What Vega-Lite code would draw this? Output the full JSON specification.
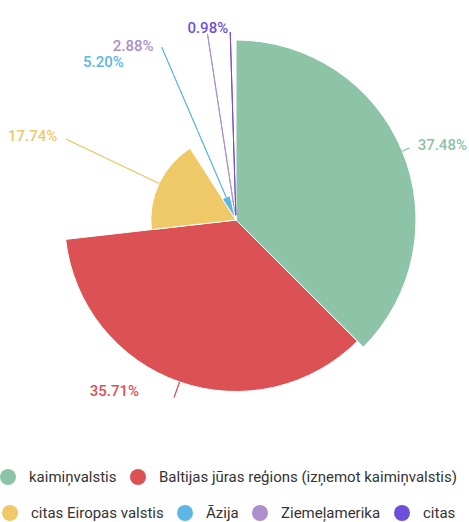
{
  "$schema": "https://vega.github.io/schema/vega-lite/v6.json",
  "width": 466,
  "height": 440,
  "autosize": {"type": "none"},
  "padding": {"left": 3, "top": 0, "right": 0, "bottom": 82},
  "background": "white",
  "view": {"stroke": null},
  "config": {
    "legend": {
      "symbolType": "circle",
      "symbolSize": 256,
      "symbolStrokeWidth": 0,
      "labelFont": "Roboto",
      "labelFontSize": 15,
      "labelColor": "#333333",
      "labelOffset": 13,
      "labelLimit": 500,
      "columnPadding": 13,
      "gridAlign": "none",
      "padding": 0
    }
  },
  "data": {
    "values": [
      {"cat": "kaimiņvalstis", "share": 0.3748, "i": 1},
      {"cat": "Baltijas jūras reģions (izņemot kaimiņvalstis)", "share": 0.3571, "i": 2},
      {"cat": "citas Eiropas valstis", "share": 0.1774, "i": 3},
      {"cat": "Āzija", "share": 0.052, "i": 4},
      {"cat": "Ziemeļamerika", "share": 0.0288, "i": 5},
      {"cat": "citas", "share": 0.0098, "i": 6}
    ]
  },
  "encoding": {
    "theta": {"field": "share", "type": "quantitative", "stack": true},
    "order": {"field": "i", "type": "quantitative"}
  },
  "layer": [
    {
      "mark": {"type": "arc", "stroke": "white", "strokeWidth": 1},
      "encoding": {
        "radius": {"field": "share", "type": "quantitative", "scale": {"type": "linear", "zero": true, "domain": [0, 0.3748], "range": [0, 180]}},
        "color": {
          "field": "cat", "type": "nominal",
          "scale": {
            "domain": ["kaimiņvalstis", "Baltijas jūras reģions (izņemot kaimiņvalstis)", "citas Eiropas valstis", "Āzija", "Ziemeļamerika", "citas"],
            "range": ["#8DC3A7", "#DB5154", "#EFC968", "#5DB6E4", "#AC8FCB", "#6D4FDB"]
          },
          "legend": {"values": ["kaimiņvalstis", "Baltijas jūras reģions (izņemot kaimiņvalstis)"], "orient": "none", "legendX": -3, "legendY": 469, "direction": "horizontal", "title": null}
        }
      }
    },
    {
      "mark": {"type": "arc", "padAngle": 3.14, "filled": false, "strokeWidth": 1},
      "encoding": {
        "radius": {"field": "share", "type": "quantitative"},
        "radius2": {"value": 188},
        "stroke": {
          "field": "cat", "type": "nominal",
          "scale": {
            "domain": ["citas Eiropas valstis", "Āzija", "Ziemeļamerika", "citas", "kaimiņvalstis", "Baltijas jūras reģions (izņemot kaimiņvalstis)"],
            "range": ["#EFC968", "#5DB6E4", "#AC8FCB", "#6D4FDB", "#8DC3A7", "#DB5154"]
          },
          "legend": {
            "values": ["citas Eiropas valstis", "Āzija", "Ziemeļamerika", "citas"],
            "labelExpr": "datum.label",
            "orient": "none", "legendX": -1, "legendY": 505, "direction": "horizontal", "title": null,
            "encode": {"symbols": {"update": {"fill": {"scale": "stroke", "field": "value"}, "strokeWidth": {"value": 0}}}}
          }
        }
      }
    },
    {
      "mark": {"type": "text", "radius": 188, "align": "left", "baseline": "middle", "dx": 8, "dy": -3, "font": "Roboto", "fontSize": 15, "fontWeight": 500},
      "encoding": {
        "text": {"field": "share", "type": "quantitative", "format": ".2%"},
        "color": {"field": "cat", "type": "nominal"},
        "opacity": {"condition": {"test": "datum.i === 1", "value": 1}, "value": 0}
      }
    },
    {
      "mark": {"type": "text", "radius": 188, "align": "right", "baseline": "middle", "dx": -35, "dy": -7, "font": "Roboto", "fontSize": 15, "fontWeight": 500},
      "encoding": {
        "text": {"field": "share", "type": "quantitative", "format": ".2%"},
        "color": {"field": "cat", "type": "nominal"},
        "opacity": {"condition": {"test": "datum.i === 2", "value": 1}, "value": 0}
      }
    },
    {
      "mark": {"type": "text", "radius": 188, "align": "right", "baseline": "middle", "dx": -9, "dy": -3, "font": "Roboto", "fontSize": 15, "fontWeight": 500},
      "encoding": {
        "text": {"field": "share", "type": "quantitative", "format": ".2%"},
        "color": {"field": "cat", "type": "nominal"},
        "opacity": {"condition": {"test": "datum.i === 3", "value": 1}, "value": 0}
      }
    },
    {
      "mark": {"type": "text", "radius": 188, "align": "right", "baseline": "middle", "dx": -38, "dy": 15, "font": "Roboto", "fontSize": 15, "fontWeight": 500},
      "encoding": {
        "text": {"field": "share", "type": "quantitative", "format": ".2%"},
        "color": {"field": "cat", "type": "nominal"},
        "opacity": {"condition": {"test": "datum.i === 4", "value": 1}, "value": 0}
      }
    },
    {
      "mark": {"type": "text", "radius": 188, "align": "right", "baseline": "middle", "dx": -54, "dy": 12, "font": "Roboto", "fontSize": 15, "fontWeight": 500},
      "encoding": {
        "text": {"field": "share", "type": "quantitative", "format": ".2%"},
        "color": {"field": "cat", "type": "nominal"},
        "opacity": {"condition": {"test": "datum.i === 5", "value": 1}, "value": 0}
      }
    },
    {
      "mark": {"type": "text", "radius": 188, "align": "right", "baseline": "middle", "dx": -2, "dy": -4, "font": "Roboto", "fontSize": 15, "fontWeight": 500},
      "encoding": {
        "text": {"field": "share", "type": "quantitative", "format": ".2%"},
        "color": {"field": "cat", "type": "nominal"},
        "opacity": {"condition": {"test": "datum.i === 6", "value": 1}, "value": 0}
      }
    }
  ]
}
